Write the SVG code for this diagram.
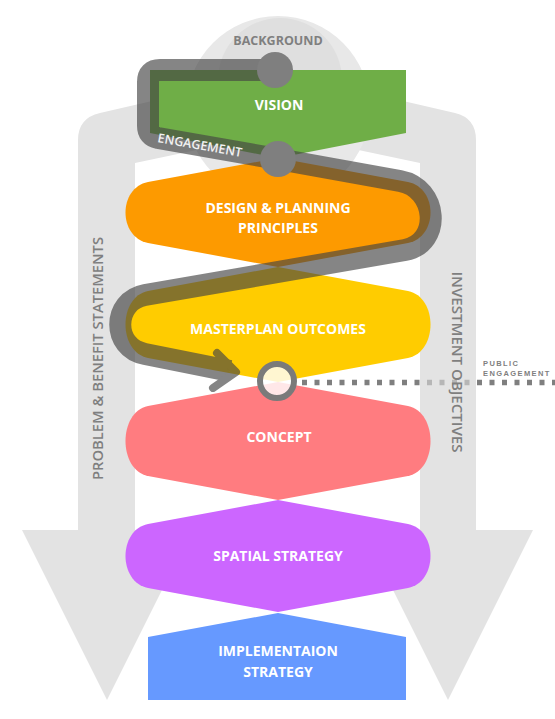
<svg xmlns="http://www.w3.org/2000/svg" width="555" height="719" viewBox="0 0 555 719">
<style>
.node-text{font-family:"Open Sans","Liberation Sans",sans-serif;font-weight:700;font-size:14px;fill:#ffffff;text-anchor:middle}
.side-text{font-family:"Open Sans","Liberation Sans",sans-serif;font-weight:600;font-size:15px;fill:#7f7f7f;text-anchor:middle}
.bg{fill:#e3e3e3}
.band{fill:none;stroke:#444444;stroke-linejoin:round}
</style>
<rect x="0" y="0" width="555" height="719" fill="#ffffff"/>
<g id="backdrop">
  <path class="bg" d="M78,530 L78,140 Q78,118 100,113 L278,72 L455,113 Q476,118 476,140 L476,530 Z"/>
  <path fill="#ffffff" d="M135,530 L135,163 L278,133 L420,163 L420,530 Z"/>
  <polygon class="bg" points="22,530 192,530 107,700"/>
  <polygon class="bg" points="363,530 533,530 448,700"/>
</g>
<g id="background">
  <circle cx="278" cy="108" r="92" fill="#e8e8e8"/>
  <circle cx="280" cy="80" r="62" fill="#dfdfdf"/>
  <text x="278" y="45" font-family="'Open Sans','Liberation Sans',sans-serif" font-weight="700" font-size="12.5" fill="#7f7f7f" text-anchor="middle">BACKGROUND</text>
</g>
<g id="problem-benefit">
  <text class="side-text" transform="translate(97,358.5) rotate(-90)" x="0" y="5.5" textLength="243" lengthAdjust="spacingAndGlyphs">PROBLEM &amp; BENEFIT STATEMENTS</text>
</g>
<g id="vision">
  <polygon fill="#6fae47" points="150,70 406,70 406,133 278,158 150,133"/>
  <text class="node-text" x="279" y="110">VISION</text>
</g>
<g id="design-planning">
  <path fill="#fd9a00" d="M278,158 L148,182 C118,188 118,237 148,243 L278,267 L408,243 C438,237 438,188 408,182 Z"/>
  <text class="node-text" x="278" y="213">DESIGN &amp; PLANNING</text>
  <text class="node-text" x="278" y="233">PRINCIPLES</text>
</g>
<g id="masterplan">
  <path fill="#ffcc00" d="M278,267 L148,291 C118,297 118,352 148,358 L278,382 L408,358 C438,352 438,297 408,291 Z"/>
  <text class="node-text" x="278" y="334">MASTERPLAN OUTCOMES</text>
</g>
<g id="concept">
  <path fill="#ff7c80" d="M278,382 L148,406 C118,412 118,470 148,476 L278,500 L408,476 C438,470 438,412 408,406 Z"/>
  <text class="node-text" x="279" y="442">CONCEPT</text>
</g>
<g id="spatial">
  <path fill="#cc66ff" d="M278,500 L148,524 C118,530 118,582 148,588 L278,612 L408,588 C438,582 438,530 408,524 Z"/>
  <text class="node-text" x="278" y="561">SPATIAL STRATEGY</text>
</g>
<g id="implementation">
  <polygon fill="#6699ff" points="148,637 278,613 406,637 406,700 148,700"/>
  <text class="node-text" x="278" y="656">IMPLEMENTAION</text>
  <text class="node-text" x="278" y="677">STRATEGY</text>
</g>
<g id="connectors">
  <g opacity="0.65">
    <path class="band" stroke-width="22" d="M275,70 L160,70 Q148,70 148,82 L148,126 Q148,136 158,138 L278,159 L400,181 C438,188 442,243 405,250 L145,295 C112,301 112,348 145,354 L230,371"/>
    <path class="band" stroke-width="8" stroke-linecap="round" d="M217,353 L236,372 L213,388"/>
  </g>
  <circle cx="275" cy="70" r="18" fill="#7f7f7f"/>
  <circle cx="278" cy="159" r="18" fill="#7f7f7f"/>
  <circle cx="277" cy="381" r="17" fill="#ffffff" fill-opacity="0.82" stroke="#7a7a7a" stroke-width="6"/>
  <line x1="302" y1="382.5" x2="555" y2="382.5" stroke="#7f7f7f" stroke-width="5.5" stroke-dasharray="5 7.5"/>
  <rect x="420" y="378" width="56" height="10" fill="#e3e3e3" opacity="0.55"/>
  <text transform="translate(200,145) rotate(10)" x="0" y="4.5" font-family="'Open Sans','Liberation Sans',sans-serif" font-weight="600" font-size="12.5" fill="#f2f2f2" text-anchor="middle">ENGAGEMENT</text>
</g>
<g id="investment">
  <text class="side-text" transform="translate(457,362) rotate(90)" x="0" y="5.5" textLength="181" lengthAdjust="spacingAndGlyphs">INVESTMENT OBJECTIVES</text>
</g>
<g id="public-engagement">
  <text x="483" y="366" font-family="'Liberation Sans',Arial,sans-serif" font-weight="700" font-size="7.5" letter-spacing="1.4" fill="#7f7f7f">PUBLIC</text>
  <text x="483" y="376" font-family="'Liberation Sans',Arial,sans-serif" font-weight="700" font-size="7.5" letter-spacing="1.4" fill="#7f7f7f">ENGAGEMENT</text>
</g>
</svg>
